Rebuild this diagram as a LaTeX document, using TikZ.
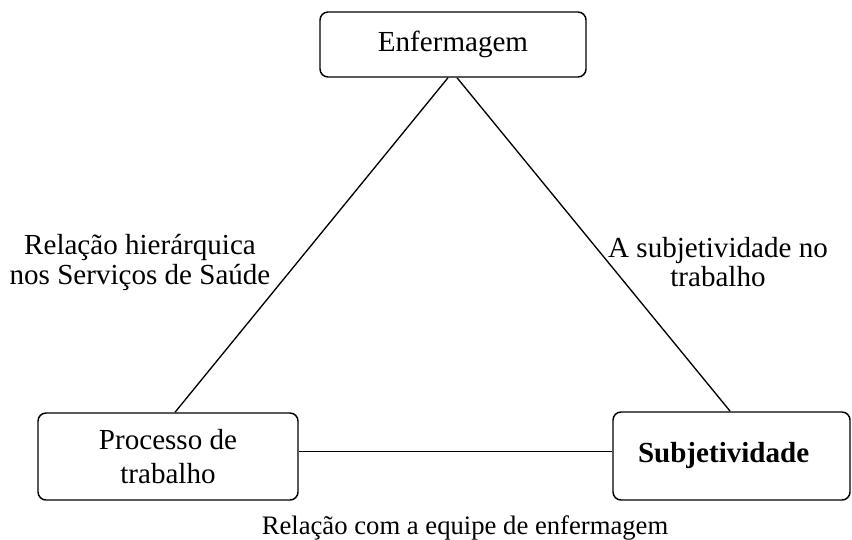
\documentclass[tikz,border=0pt]{standalone}
\usepackage{fontspec}
\setmainfont{Liberation Serif}
\usetikzlibrary{positioning}

\begin{document}
\begin{tikzpicture}[x=0.75pt, y=-0.75pt,
  box/.style={draw=black, line width=1.1pt, rounded corners=6pt, inner sep=0pt, align=center, font=\fontsize{21.8}{25}\selectfont},
  lbl/.style={inner sep=0pt, align=center, font=\fontsize{21.8}{22.5}\selectfont},
  link/.style={draw=black, line width=1pt}]
  \useasboundingbox (0,0) rectangle (852,539);

  \node[box, minimum width=199.5pt, minimum height=48.75pt] (enf) at (453,44.5) {Enfermagem};
  \node[box, minimum width=195pt, minimum height=65.25pt, font=\fontsize{21.8}{25.3}\selectfont] (proc) at (168,456.5) {Processo de\\trabalho};
  \node[box, minimum width=177.75pt, minimum height=66pt, text width=140.25pt, inner xsep=18.75pt, align=left, font=\fontsize{21.8}{25}\selectfont\bfseries] (subj) at (731.5,456) {Subjetividade};

  \node[lbl] (hier) at (140,262) {Relação hierárquica\\nos Serviços de Saúde};
  \node[lbl, font=\fontsize{21.8}{21.75}\selectfont] (trab) at (718,262) {A subjetividade no\\trabalho};
  \node[lbl, anchor=base, font=\fontsize{20}{24}\selectfont] (equipe) at (465,534) {Relação com a equipe de enfermagem};

  \draw[link] ([xshift=-3.75pt]enf.south) -- ([xshift=5.25pt]proc.north);
  \draw[link] ([xshift=3pt]enf.south) -- ([xshift=-1pt]subj.north);
  \draw[link] ([yshift=4pt]proc.east) -- ([yshift=4pt]proc.east -| subj.west);

\end{tikzpicture}
\end{document}
